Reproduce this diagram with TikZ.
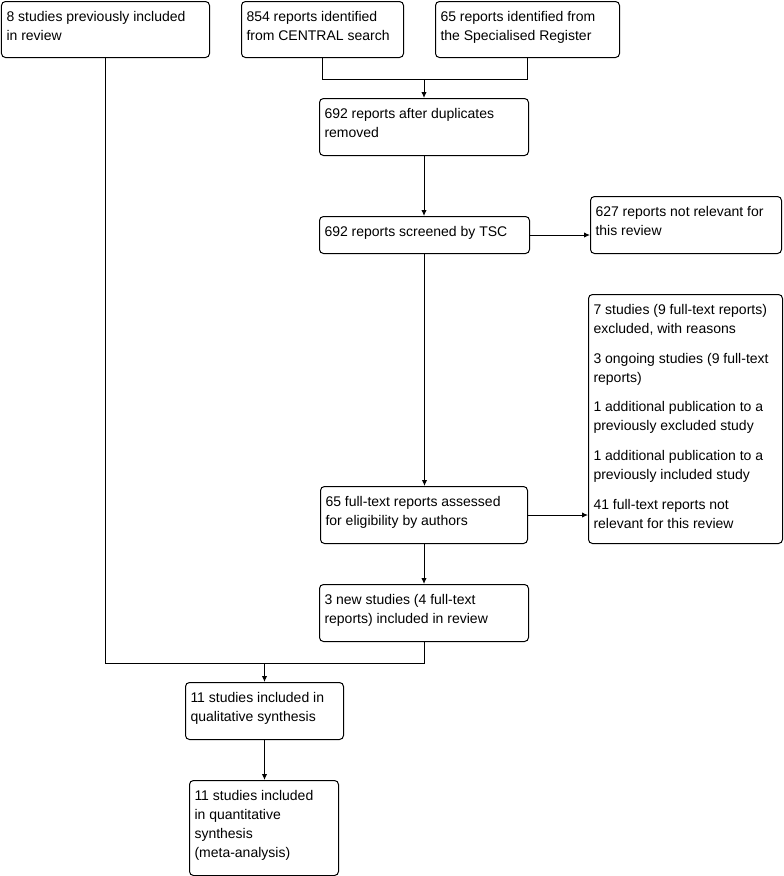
\documentclass[tikz,border=0pt]{standalone}
\usepackage{fontspec}
\setmainfont{Liberation Sans}
\usetikzlibrary{arrows.meta}
\newcommand\fbx[6]{\node[box,anchor=north west] (#1) at (#2,#3) {\parbox[c][#5][t]{#4}{\raggedright\leftskip=3.75pt\rule{0pt}{15pt}#6}};}
\begin{document}
\begin{tikzpicture}[x=0.75pt,y=-0.75pt,
  box/.style={draw, rounded corners=3pt, line width=0.75pt, inner sep=0pt,
    font=\fontsize{10.5pt}{14.25pt}\selectfont},
  conn/.style={draw, line width=0.75pt},
  arr/.style={conn, -{Latex[length=4.5pt,width=4pt]}}]
\fill[white] (0,0) rectangle (784,876);
\useasboundingbox (0,0) rectangle (784,876);
\fbx{A}{1}{1}{156pt}{42pt}{8 studies previously included\\in review}
\fbx{B}{241}{1}{121.5pt}{42pt}{854 reports identified\\from CENTRAL search}
\fbx{C}{435}{1}{138pt}{42pt}{65 reports identified from\\the Specialised Register}
\fbx{D}{319}{98}{156.75pt}{42.75pt}{692 reports after duplicates\\removed}
\fbx{E}{319}{216}{157.5pt}{27.75pt}{692 reports screened by TSC}
\fbx{F}{590}{196}{143.25pt}{42.75pt}{627 reports not relevant for\\this review}
\fbx{G}{320}{486}{155.25pt}{42.75pt}{65 full-text reports assessed\\for eligibility by authors}
\fbx{H}{588}{294}{145.5pt}{186.75pt}{7 studies (9 full-text reports)\\excluded, with reasons\\[8pt]3 ongoing studies (9 full-text\\reports)\\[8pt]1 additional publication to a\\previously excluded study\\[8pt]1 additional publication to a\\previously included study\\[8pt]41 full-text reports not\\relevant for this review}
\fbx{I}{319}{584}{156.75pt}{42.75pt}{3 new studies (4 full-text\\reports) included in review}
\fbx{J}{185}{682}{118.5pt}{42.75pt}{11 studies included in\\qualitative synthesis}
\fbx{K}{189}{780}{111.75pt}{71.25pt}{11 studies included\\in quantitative\\synthesis\\(meta-analysis)}
% connectors
\path (B.south) ++(0,21) coordinate (jb);
\draw[conn] (B.south) -- (jb) -| (C.south);
\draw[arr] (jb -| D.north) -- (D.north);
\draw[arr] (D.south) -- (D.south |- E.north);
\draw[arr] (E.east) -- (E.east -| F.west);
\draw[arr] (E.south) -- (E.south |- G.north);
\draw[arr] (G.east) -- (G.east -| H.west);
\draw[arr] (G.south) -- (G.south |- I.north);
\path (I.south) ++(0,21) coordinate (jc);
\draw[conn] (A.south) |- (jc) -- (I.south);
\draw[arr] (jc -| J.north) -- (J.north);
\draw[arr] (J.south) -- (J.south |- K.north);
\end{tikzpicture}
\end{document}
